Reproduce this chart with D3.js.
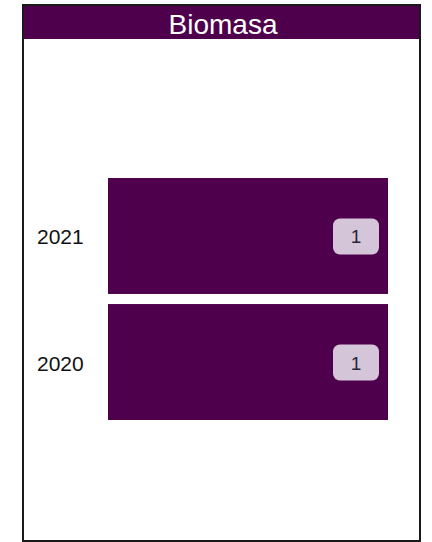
<!DOCTYPE html>
<html><head><meta charset="utf-8">
<script src="https://cdn.jsdelivr.net/npm/d3@7"></script>
<style>body{margin:0;background:#fff;}svg{display:block;}</style>
</head><body>
<script>
const title = "Biomasa";
const categories = ["2021", "2020"];
const values = [1, 1];

const W = 432, H = 542;
const svg = d3.select("body").append("svg").attr("width", W).attr("height", H);
const dark = "#4f004c";
const font = "Liberation Sans, Arial, sans-serif";

// frame
svg.append("rect").attr("x", 23).attr("y", 5).attr("width", 397).attr("height", 536)
  .attr("fill", "#fff").attr("stroke", "#1a1a1a").attr("stroke-width", 2);
svg.append("rect").attr("x", 24).attr("y", 6).attr("width", 395).attr("height", 33).attr("fill", dark);
svg.append("text").attr("x", 223).attr("y", 34).attr("text-anchor", "middle")
  .attr("font-family", font).attr("font-size", 28)
  .attr("fill", "#fff").text(title);

const y = d3.scaleBand().domain(categories).range([178, 420]).paddingInner(0.08).paddingOuter(0);
const x = d3.scaleLinear().domain([0, 1]).range([108, 388]);

const data = categories.map((c, i) => ({c, v: values[i]}));

svg.selectAll("rect.bar").data(data).join("rect").attr("class", "bar")
  .attr("x", x(0)).attr("y", d => y(d.c))
  .attr("width", d => x(d.v) - x(0)).attr("height", y.bandwidth())
  .attr("fill", dark);

svg.selectAll("text.cat").data(data).join("text").attr("class", "cat")
  .attr("x", 37).attr("y", d => y(d.c) + y.bandwidth() / 2 + 1)
  .attr("dominant-baseline", "central")
  .attr("font-family", font).attr("font-size", 21)
  .attr("fill", "#111").text(d => d.c);

const lg = svg.selectAll("g.lbl").data(data).join("g").attr("class", "lbl");
lg.append("rect")
  .attr("x", d => x(d.v) - 9 - 46).attr("y", d => y(d.c) + y.bandwidth() / 2 - 17.5)
  .attr("width", 46).attr("height", 36).attr("rx", 7)
  .attr("fill", "#d5c5d9");
lg.append("text")
  .attr("x", d => x(d.v) - 9 - 23).attr("y", d => y(d.c) + y.bandwidth() / 2 + 1)
  .attr("dominant-baseline", "central").attr("text-anchor", "middle")
  .attr("font-family", font).attr("font-size", 19)
  .attr("fill", "#1e2a36").text(d => d.v);
</script>
</body></html>
